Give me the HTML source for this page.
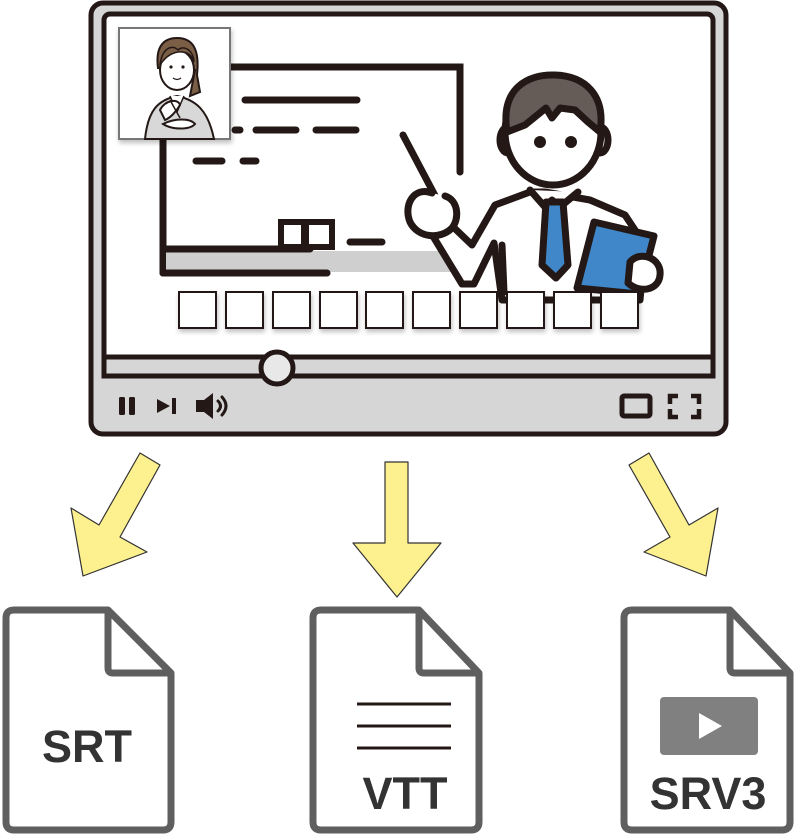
<!DOCTYPE html>
<html><head><meta charset="utf-8"><style>
html,body{margin:0;padding:0;background:#fff;}
svg{display:block;}
text{font-family:"Liberation Sans",sans-serif;font-weight:bold;fill:#333;}
</style></head><body>
<svg width="795" height="837" viewBox="0 0 795 837" xmlns="http://www.w3.org/2000/svg">
<defs>
<filter id="sh" x="-20%" y="-20%" width="140%" height="140%"><feDropShadow dx="1" dy="3" stdDeviation="2.5" flood-color="#000" flood-opacity="0.25"/></filter>
</defs>
<rect x="91" y="3" width="635" height="431" rx="12" fill="#d6d6d6" stroke="#231815" stroke-width="5"/>
<rect x="104" y="14" width="609" height="360" rx="6" fill="#fff" stroke="#231815" stroke-width="5"/>
<g stroke="#231815" stroke-width="7" stroke-linecap="round" fill="none">
<polyline points="225,67 460,67 460,172"/>
<line x1="163" y1="135" x2="163" y2="273"/>
</g>
<rect x="166" y="251" width="285" height="21" fill="#cfcfcf"/>
<g stroke="#231815" stroke-width="7" stroke-linecap="round">
<line x1="166" y1="249" x2="310" y2="249"/>
<line x1="163" y1="273" x2="327" y2="273"/>
<line x1="245" y1="100" x2="357" y2="100"/>
<line x1="235" y1="130" x2="240" y2="130"/>
<line x1="256" y1="130" x2="296" y2="130"/>
<line x1="316" y1="130" x2="356" y2="130"/>
<line x1="196" y1="161" x2="222" y2="161"/>
<line x1="243" y1="161" x2="256" y2="161"/>
<line x1="350" y1="242" x2="382" y2="242"/>
</g>
<rect x="281" y="222" width="23" height="25" fill="#fff" stroke="#231815" stroke-width="6"/>
<rect x="306" y="222" width="26" height="25" fill="#fff" stroke="#231815" stroke-width="6"/>
<g stroke="#231815" stroke-width="7" stroke-linejoin="round" stroke-linecap="round">
<path d="M428,228 L462,284 L474,284 L494,243 L502,300 L640,300 L645,245 L625,215 L590,200 L545,192 L530,192 L495,205 L472,245 L448,222 Z" fill="#fff"/>
<line x1="502" y1="245" x2="504" y2="292" fill="none"/>
<path d="M530,190 L545,207 L552,200 L560,207 L578,192" fill="#fff"/>
<path d="M546,202 L563,202 L568,265 L556,278 L542,265 Z" fill="#3f87c9"/>
<ellipse cx="508" cy="140" rx="8" ry="13" fill="#fff"/>
<ellipse cx="600" cy="140" rx="8" ry="13" fill="#fff"/>
<ellipse cx="553" cy="132" rx="48" ry="53" fill="#fff"/>
<path d="M507,132 C500,88 528,74 555,75 C585,76 606,95 600,132 L588,122 L575,110 L560,108 L552,118 L546,108 L525,125 Z" fill="#655c58"/>
<path d="M594,222 L654,236 L639,294 L577,288 Z" fill="#3f87c9"/>
<path d="M630,262 C640,250 662,258 660,275 C659,290 640,294 628,283 Z" fill="#fff"/>
<line x1="403" y1="135" x2="440" y2="205" fill="none"/>
<path d="M432,193 C414,186 403,205 410,222 C418,238 440,240 452,228 C460,218 458,200 445,196" fill="#fff"/>
</g>
<circle cx="540" cy="142" r="6" fill="#231815"/>
<circle cx="571" cy="142" r="6" fill="#231815"/>
<g fill="#fff" stroke="#231815" stroke-width="2" filter="url(#sh)">
<rect x="179" y="292" width="37" height="36"/><rect x="226" y="292" width="37" height="36"/>
<rect x="273" y="292" width="37" height="36"/><rect x="320" y="292" width="37" height="36"/>
<rect x="366" y="292" width="37" height="36"/><rect x="413" y="292" width="37" height="36"/>
<rect x="460" y="292" width="37" height="36"/><rect x="507" y="292" width="37" height="36"/>
<rect x="554" y="292" width="37" height="36"/><rect x="601" y="292" width="37" height="36"/>
</g>
<g filter="url(#sh)"><rect x="119" y="28" width="111" height="111" fill="#fff" stroke="#777" stroke-width="2"/></g>
<path d="M145,139 C148,110 158,100 177,96 C196,100 208,110 214,139 Z" fill="#d8d8d8" stroke="#231815" stroke-width="2"/>
<path d="M170,96 L177,112 L184,96" fill="#fff" stroke="#231815" stroke-width="1.5"/>
<path d="M158,68 C155,45 165,38 177,38 C192,38 200,48 197,75 L200,92 L190,96 L195,70 Z" fill="#7a5e45" stroke="#231815" stroke-width="2"/>
<ellipse cx="177" cy="70" rx="17" ry="20" fill="#fff" stroke="#231815" stroke-width="2"/>
<path d="M160,65 C162,48 172,44 178,50 C185,44 194,52 194,62 C192,50 172,46 160,65 Z" fill="#7a5e45" stroke="#231815" stroke-width="1.5"/>
<circle cx="171" cy="67" r="1.6" fill="#231815"/><circle cx="183" cy="67" r="1.6" fill="#231815"/>
<path d="M173,78 Q177,81 181,78" stroke="#231815" stroke-width="1.2" fill="none"/>
<path d="M160,110 C165,100 178,98 180,105 C176,112 170,118 165,120 Z" fill="#fff" stroke="#231815" stroke-width="2"/>
<line x1="170" y1="100" x2="180" y2="118" stroke="#231815" stroke-width="1.5"/>
<path d="M163,124 C175,118 190,118 195,124 C190,130 172,130 163,124 Z" fill="#fff" stroke="#231815" stroke-width="2"/>
<rect x="104" y="357" width="609" height="19" fill="#d6d6d6" stroke="#231815" stroke-width="5"/>
<circle cx="277" cy="368" r="16" fill="#e8e8e8" stroke="#231815" stroke-width="5"/>
<g fill="#231815">
<rect x="119" y="397" width="6" height="18" rx="1.5"/><rect x="129" y="397" width="6" height="18" rx="1.5"/>
<polygon points="157,399 170,406 157,413"/><rect x="172" y="398" width="4" height="16"/>
<polygon points="196,400 204,400 213,393 213,419 204,412 196,412"/>
</g>
<g fill="none" stroke="#231815" stroke-width="3" stroke-linecap="round">
<path d="M218,401 Q223,406 218,411"/><path d="M222,397 Q230,406 222,415"/>
</g>
<rect x="622" y="396" width="28" height="20" rx="2" fill="none" stroke="#231815" stroke-width="5"/>
<g fill="none" stroke="#231815" stroke-width="4.5">
<path d="M670,404 V396 H678"/><path d="M691,396 H699 V404"/><path d="M699,409 V417 H691"/><path d="M678,417 H670 V409"/>
</g>
<g fill="#fdf08f" stroke="#333" stroke-width="1.2" stroke-linejoin="round">
<polygon points="83,576 71,508 99,525 140,453 160,465 120,537 147,552"/>
<polygon points="385,462 408,462 408,543 441,543 397,597 353,543 385,543"/>
<polygon points="706,576 718,508 689,525 649,453 629,465 670,537 644,552"/>
</g>
<g fill="#fff" stroke="#5f5f5f" stroke-width="7" stroke-linejoin="round">
<path d="M14,610 H108 L171,673 V822 Q171,830 163,830 H14 Q6,830 6,822 V618 Q6,610 14,610 Z"/>
<path d="M108,610 V668 Q108,673 113,673 H171" fill="none"/>
<path d="M321,610 H419 L479,673 V822 Q479,830 471,830 H321 Q313,830 313,822 V618 Q313,610 321,610 Z"/>
<path d="M419,610 V668 Q419,673 424,673 H479" fill="none"/>
<path d="M632,610 H730 L790,673 V822 Q790,830 782,830 H632 Q624,830 624,822 V618 Q624,610 632,610 Z"/>
<path d="M730,610 V668 Q730,673 735,673 H790" fill="none"/>
</g>
<g stroke="#231815" stroke-width="3"><line x1="357" y1="704" x2="451" y2="704"/><line x1="357" y1="726" x2="451" y2="726"/><line x1="357" y1="748" x2="451" y2="748"/></g>
<rect x="660" y="697" width="98" height="58" rx="4" fill="#808080"/>
<polygon points="699,713 699,739 722,726" fill="#fff"/>
<text x="87" y="762" font-size="45" text-anchor="middle">SRT</text>
<text x="405" y="809" font-size="45" text-anchor="middle">VTT</text>
<text x="708" y="809" font-size="45" text-anchor="middle">SRV3</text>
</svg>
</body></html>
